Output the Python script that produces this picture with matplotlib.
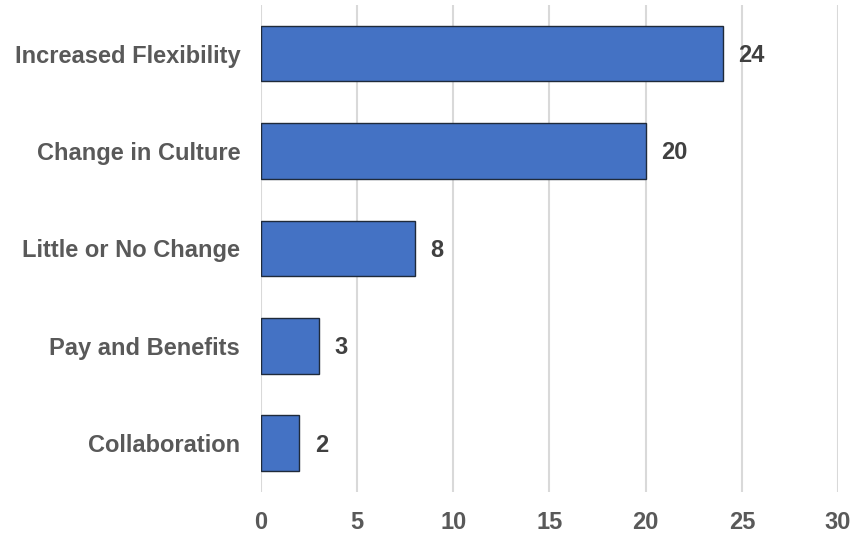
import matplotlib.pyplot as plt

categories = ['Increased Flexibility', 'Change in Culture', 'Little or No Change',
              'Pay and Benefits', 'Collaboration']
counts = [24, 20, 8, 3, 2]
xticks = [0, 5, 10, 15, 20, 25, 30]

plt.rcParams['font.family'] = ['Liberation Sans', 'DejaVu Sans']

fig = plt.figure(figsize=(8.51, 5.33), dpi=100)
ax = fig.add_axes([0.3067, 0.077, 0.678, 0.914])

ypos = list(range(len(categories)))
ax.barh(ypos, counts, height=0.57, color='#4472C4', edgecolor='#1f2a3a', linewidth=1.0, zorder=3)

# value labels to the right of each bar
for y, v in zip(ypos, counts):
    ax.text(v + 0.8, y + 0.02, str(v), va='center', ha='left', fontsize=17,
            fontweight='bold', color='#404040')

ax.set_yticks(ypos)
ax.set_yticklabels(categories, fontsize=17, fontweight='bold', color='#595959')
ax.set_ylim(len(categories) - 0.5, -0.5)

ax.set_xlim(0, 30)
ax.set_xticks(xticks)
ax.set_xticklabels([str(t) for t in xticks], fontsize=17, fontweight='bold', color='#595959')
ax.grid(axis='x', color='#d9d9d9', linewidth=1.5, zorder=0)
ax.tick_params(axis='both', length=0)
ax.tick_params(axis='y', pad=15)
ax.tick_params(axis='x', pad=14)
for s in ax.spines.values():
    s.set_visible(False)

fig.savefig('out.png', dpi=100)
